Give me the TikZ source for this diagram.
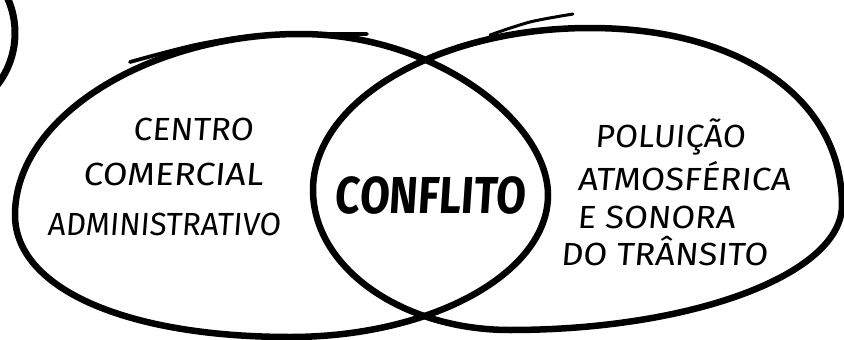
\documentclass[tikz,border=0pt]{standalone}
\usepackage{fontspec}
\setmainfont{Fira Sans}
\newfontfamily\handfont[FakeSlant=0.08]{Fira Sans}
\newcommand\fitw[2]{\resizebox{#1}{\height}{#2}}
\tikzset{
  outline/.style={line width=6.5pt, line join=round, line cap=round, black},
  extrastroke/.style={line width=3.8pt, line cap=round, black},
  lbl/.style={font=\handfont\fontsize{32}{32}\selectfont, anchor=base, inner sep=0pt},
  bigl/.style={font=\handfont\bfseries\fontsize{52}{52}\selectfont, anchor=base, inner sep=0pt}
}
\begin{document}
\begin{tikzpicture}[x=1pt,y=-1pt]
\useasboundingbox (0,0) rectangle (844,340);
\clip (0,0) rectangle (844,340);
\fill[white] (0,0) rectangle (844,340);
% partial circle top left
\draw[outline, line width=7pt] (-70,33) circle[radius=85];
% left ellipse
\draw[outline] (15,215)
  .. controls (15,115) and (152,34) .. (300,34)
  .. controls (437,34) and (548,123) .. (548,195)
  .. controls (548,273) and (432,337) .. (290,337)
  .. controls (125,337) and (15,288) .. (15,215) -- cycle;
% right ellipse
\draw[outline] (313,190)
  .. controls (313,101) and (437,28) .. (590,28)
  .. controls (741,28) and (842,99) .. (842,205)
  .. controls (842,274) and (693,330) .. (510,330)
  .. controls (401,330) and (313,267) .. (313,190) -- cycle;
% sketch strokes
\draw[extrastroke] plot[smooth] coordinates {(130,62) (200,44) (267,35) (367,34)};
\draw[extrastroke, line width=3pt] plot[smooth] coordinates {(490,35) (530,22) (573,14)};
% texts
\node[lbl] (t1) at (193,140) {\fitw{120pt}{CENTRO}};
\node[lbl] (t2) at (173,185) {\fitw{180pt}{COMERCIAL}};
\node[lbl] (t3) at (164,235) {\fitw{233pt}{ADMINISTRATIVO}};
\node[bigl] (c) at (430,213) {\fitw{190pt}{CONFLITO}};
\node[lbl] (r1) at (670,147) {\fitw{150pt}{POLUIÇÃO}};
\node[lbl] (r2) at (684,190) {\fitw{213pt}{ATMOSFÉRICA}};
\node[lbl] (r3) at (656,228) {\fitw{158pt}{E SONORA}};
\node[lbl] (r4) at (664,265) {\fitw{207pt}{DO TRÂNSITO}};
\end{tikzpicture}
\end{document}
